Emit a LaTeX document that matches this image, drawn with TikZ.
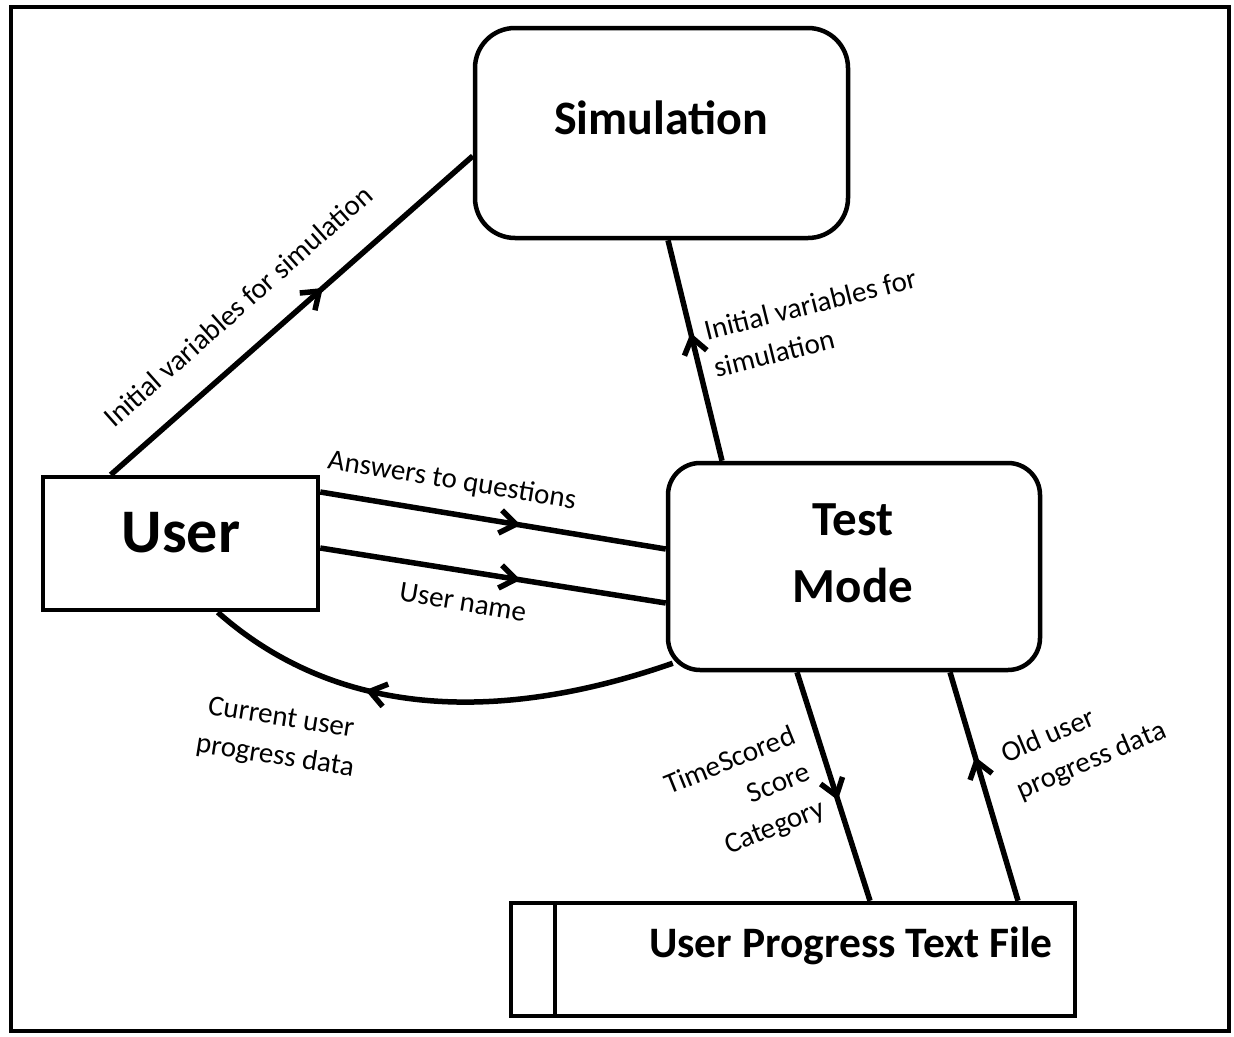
\documentclass[tikz,border=0pt]{standalone}
\usepackage{fontspec}
\setmainfont{Carlito}
\usetikzlibrary{arrows.meta,decorations.markings,calc}
\begin{document}
\begin{tikzpicture}[x=1pt,y=-1pt,
  box/.style={draw, line width=4.5pt, inner sep=0pt},
  flow/.style={line width=5.5pt},
  lbl/.style={font=\fontsize{29}{39}\selectfont, inner sep=0pt},
  ttl/.style={font=\bfseries\fontsize{#1}{#1}\selectfont, align=center, inner sep=0pt},
  midarrow/.style={postaction={decorate}, decoration={markings, mark=at position #1 with {\arrow[line cap=round, line join=round]{Straight Barb[length=16pt,width=23pt]}}}},
]
\path[use as bounding box] (0,0) rectangle (1234,1036);
\draw[line width=4.5pt] (11,7) rectangle (1229,1031);

% boxes
\node[box, rounded corners=40pt, minimum width=373pt, minimum height=210pt] (sim) at (661.5,133) {};
\node[box, rounded corners=32pt, minimum width=372pt, minimum height=207pt] (test) at (854,566.5) {};
\node[box, minimum width=275pt, minimum height=133pt] (user) at (180.5,543.5) {};
\node[box, minimum width=564pt, minimum height=113pt] (file) at (793,959.5) {};
\draw[line width=4.5pt] ($(file.north west)+(46,0)$) -- ($(file.south west)+(46,0)$);

% box texts
\node[ttl=48, anchor=base] (simt) at (661,134) {Simulation};
\node[ttl=62, anchor=base] (usert) at (181,552) {User};
\node[inner sep=0pt, align=center, font=\bfseries\fontsize{49}{67}\selectfont] (testt) at (853,553) {Test\\Mode};
\node[ttl=43.5, anchor=base] (filet) at (851,957) {User Progress Text File};

% connectors
\draw[flow, midarrow=0.586] ($(user.north west)+(70,0)$) -- ($(sim.west)+(0,23)$);
\node[lbl, rotate=41.6] (l1) at (238,306) {Initial variables for simulation};

\draw[flow, midarrow=0.58] ($(test.north)+(-132,0)$) -- ($(sim.south)+(6.5,0)$);
\node[lbl, align=left, rotate=14] (l2) at (815,323) {Initial variables for\\simulation};

\draw[flow, midarrow=0.58] ($(user.east)+(0,-51.5)$) -- ($(test.west)+(0,-17.5)$);
\node[lbl, rotate=-9.3] (l3) at (452,481) {Answers to questions};

\draw[flow, midarrow=0.58] ($(user.east)+(0,4.5)$) -- ($(test.west)+(0,36.5)$);
\node[lbl, rotate=-9.3] (l4) at (463,602) {User name};

\draw[flow, midarrow=0.65] ($(test.south west)+(7,-9)$) .. controls ($(test.south west)+(-148,45)$) and ($(user.south west)+(307,115)$) .. ($(user.south west)+(177,0)$);
\node[lbl, align=center, rotate=-9] (l5) at (278,738) {Current user\\progress data};

\draw[flow, midarrow=0.56] ($(test.south)+(-57,0)$) -- ($(file.north)+(77,0)$);
\node[lbl, align=right, rotate=22] (l6) at (745,798) {TimeScored\\Score\\Category};

\draw[flow, midarrow=0.63] ($(file.north)+(225,0)$) -- ($(test.south)+(96,0)$);
\node[lbl, align=left, rotate=23] (l7) at (1084,743) {Old user\\progress data};
\end{tikzpicture}
\end{document}
